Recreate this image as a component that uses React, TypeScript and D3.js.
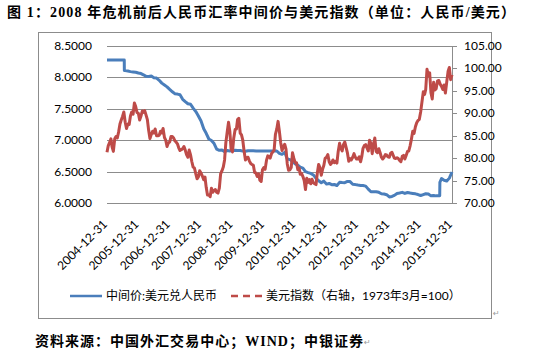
import React from 'react';
import * as d3 from 'd3';

const W = 550;
const H = 356;

const leftTicks = [6.0, 6.5, 7.0, 7.5, 8.0, 8.5];
const rightTicks = [70, 75, 80, 85, 90, 95, 100, 105];
const xTickLabels = [
  '2004-12-31', '2005-12-31', '2006-12-31', '2007-12-31', '2008-12-31', '2009-12-31',
  '2010-12-31', '2011-12-31', '2012-12-31', '2013-12-31', '2014-12-31', '2015-12-31',
];

// USD/CNY central parity, month-end, Jan 2005 .. Dec 2015
const cnyMonthEnd = [
  8.2765, 8.2765, 8.2765, 8.2765, 8.2765, 8.2765, 8.1080, 8.1017, 8.0920, 8.0868, 8.0825, 8.0702,
  8.0608, 8.0415, 8.0170, 8.0156, 8.0215, 7.9956, 7.9897, 7.9538, 7.9087, 7.8792, 7.8495, 7.8087,
  7.7714, 7.7410, 7.7342, 7.7247, 7.6516, 7.6155, 7.5805, 7.5720, 7.5108, 7.4555, 7.3850, 7.3046,
  7.1818, 7.1100, 7.0190, 6.9960, 6.9472, 6.8591, 6.8388, 6.8444, 6.8183, 6.8349, 6.8275, 6.8346,
  6.8382, 6.8379, 6.8359, 6.8263, 6.8235, 6.8319, 6.8317, 6.8311, 6.8290, 6.8271, 6.8274, 6.8282,
  6.8270, 6.8269, 6.8263, 6.8263, 6.8279, 6.7909, 6.7750, 6.8069, 6.7011, 6.6908, 6.6595, 6.6227,
  6.6017, 6.5713, 6.5564, 6.4990, 6.4845, 6.4716, 6.4470, 6.3925, 6.3549, 6.3233, 6.3482, 6.3009,
  6.3115, 6.2919, 6.2943, 6.2787, 6.3288, 6.3249, 6.3241, 6.3428, 6.3410, 6.2990, 6.2929, 6.2855,
  6.2795, 6.2779, 6.2689, 6.2208, 6.1796, 6.1787, 6.1788, 6.1699, 6.1480, 6.1425, 6.1325, 6.0969,
  6.1050, 6.1214, 6.1521, 6.1591, 6.1695, 6.1528, 6.1675, 6.1588, 6.1525, 6.1461, 6.1345, 6.1190,
  6.1339, 6.1475, 6.1422, 6.1137, 6.1196, 6.1136, 6.1172, 6.3893, 6.3613, 6.3495, 6.3962, 6.4936,
];
const cnyExtraDates = ['2004-12-31', '2005-07-20', '2005-07-21', '2015-08-10', '2015-08-11', '2015-08-12'];
const cnyExtraValues = [8.2765, 8.2765, 8.1100, 6.1162, 6.2298, 6.3306];

// US dollar index, mid-month and month-end, Jan 2005 .. Dec 2015
const dxyStartDate = '2004-12-31';
const dxyStartValue = 81.3;
const dxyHalfMonth = [
  // 2005
  82.8, 83.5, 84.3, 82.5, 81.5, 84.3, 84.8, 84.5, 85.8, 87.6, 88.5, 89.3,
  90.3, 88.0, 86.6, 87.6, 87.5, 89.4, 90.3, 89.8, 92.3, 91.5, 90.2, 90.0,
  // 2006
  88.5, 89.4, 90.5, 90.2, 90.6, 89.6, 88.6, 86.2, 84.4, 85.3, 86.0, 85.6,
  86.5, 85.0, 85.0, 85.1, 86.0, 85.6, 86.6, 84.6, 84.0, 82.6, 83.4, 83.6,
  // 2007
  84.8, 84.8, 84.5, 83.9, 83.6, 83.2, 82.3, 81.7, 81.9, 82.1, 82.6, 81.8,
  80.8, 80.2, 81.8, 80.7, 79.2, 78.0, 77.8, 76.5, 75.4, 75.8, 77.2, 76.7,
  // 2008
  76.0, 75.2, 75.8, 73.5, 71.8, 71.8, 71.4, 73.3, 72.4, 72.8, 73.0, 72.4,
  72.2, 73.3, 76.5, 77.2, 78.0, 79.6, 83.5, 85.9, 88.0, 86.0, 82.0, 81.4,
  // 2009
  84.5, 86.4, 86.5, 88.6, 88.9, 85.6, 85.2, 84.0, 81.6, 79.6, 80.1, 80.2,
  79.4, 78.8, 78.6, 78.4, 76.8, 76.7, 75.9, 76.5, 75.1, 74.8, 77.4, 77.9,
  // 2010
  77.5, 79.5, 80.5, 80.4, 80.0, 81.0, 81.4, 81.8, 85.3, 86.5, 88.2, 86.0,
  83.5, 81.7, 82.5, 83.1, 82.0, 78.7, 77.3, 77.4, 77.9, 81.2, 80.0, 79.0,
  // 2011
  79.0, 77.4, 77.8, 76.4, 76.6, 75.9, 75.0, 73.0, 75.5, 74.6, 75.2, 74.3,
  75.3, 74.5, 74.3, 74.1, 76.7, 78.6, 77.9, 76.2, 77.5, 78.4, 80.0, 80.2,
  // 2012
  80.8, 79.2, 78.6, 78.9, 79.6, 79.0, 79.3, 78.9, 81.5, 83.3, 82.2, 81.6,
  83.0, 83.6, 82.4, 81.1, 79.3, 79.9, 79.6, 80.2, 81.0, 80.2, 79.8, 79.8,
  // 2013
  80.3, 79.2, 80.5, 82.2, 82.8, 83.0, 82.3, 81.6, 84.0, 83.3, 81.0, 83.1,
  84.5, 81.5, 81.2, 82.1, 81.2, 80.2, 79.8, 80.2, 80.8, 80.7, 80.3, 80.2,
  // 2014
  81.1, 81.3, 80.6, 80.0, 79.9, 80.1, 79.9, 79.5, 79.2, 80.4, 80.6, 79.8,
  80.6, 81.5, 81.6, 82.8, 84.3, 86.0, 85.5, 87.0, 87.9, 88.4, 88.6, 90.3,
  // 2015
  92.5, 94.8, 94.2, 95.3, 99.8, 98.4, 99.0, 94.6, 93.2, 96.9, 95.2, 95.5,
  97.2, 97.3, 96.5, 96.0, 95.3, 96.3, 94.5, 97.0, 99.3, 100.2, 97.5, 98.6,
];

const parse = d3.timeParse('%Y-%m-%d');

type Pt = { d: Date; v: number };

const cnySeries: Pt[] = [
  ...cnyMonthEnd.map((v, i) => ({ d: new Date(2005, i + 1, 0), v })),
  ...cnyExtraDates.map((s, i) => ({ d: parse(s) as Date, v: cnyExtraValues[i] })),
].sort((a, b) => +a.d - +b.d);

const dxySeries: Pt[] = [
  { d: parse(dxyStartDate) as Date, v: dxyStartValue },
  ...dxyHalfMonth.map((v, i) => {
    const m = Math.floor(i / 2);
    const d = i % 2 === 0 ? new Date(2005, m, 15) : new Date(2005, m + 1, 0);
    return { d, v };
  }),
];

const BLUE = '#4a7ebb';
const RED = '#be4b48';
const GRID = '#8c8c8c';

export default function App() {
  const plotL = 107;
  const plotR = 452;
  const plotT = 46;
  const plotB = 203;

  const x = d3
    .scaleTime()
    .domain([parse('2004-12-31') as Date, parse('2015-12-31') as Date])
    .range([plotL, plotR]);
  const yL = d3.scaleLinear().domain([6.0, 8.5]).range([plotB, plotT]);
  const yR = d3.scaleLinear().domain([70, 105]).range([plotB, plotT]);

  const blueLine = d3
    .line<Pt>()
    .x((p) => x(p.d))
    .y((p) => yL(p.v))
    .curve(d3.curveLinear);
  const redLine = d3
    .line<Pt>()
    .x((p) => x(p.d))
    .y((p) => yR(p.v))
    .curve(d3.curveLinear);

  const numFont = 'Lato, "Open Sans", sans-serif';
  const cjkFont = '"Liberation Serif", "Noto Sans CJK SC", serif';

  return (
    <svg width={W} height={H} style={{ position: 'absolute', left: 0, top: 0 }}>
      <rect x={0} y={0} width={W} height={H} fill="#fff" />
      {/* Title */}
      <text
        x={7}
        y={17}
        fontFamily={cjkFont}
        fontWeight={700}
        fontSize={14}
        textLength={508}
        lengthAdjust="spacing"
        fill="#000"
      >
        图 1：2008 年危机前后人民币汇率中间价与美元指数（单位：人民币/美元）
      </text>

      {/* Chart frame */}
      <rect x={38.5} y={32.5} width={453} height={286} fill="#fff" stroke="#8c8c8c" strokeWidth={1} />

      {/* Gridlines */}
      {leftTicks.map((t) => (
        <line key={'g' + t} x1={plotL} x2={plotR} y1={Math.round(yL(t)) + 0.5} y2={Math.round(yL(t)) + 0.5} stroke={GRID} strokeWidth={1} />
      ))}

      {/* Left axis labels */}
      {leftTicks.map((t) => (
        <text key={'l' + t} x={92} y={yL(t) + 4} textAnchor="end" fontFamily={numFont} fontSize={12} fill="#000">
          {t.toFixed(4)}
        </text>
      ))}

      {/* Right axis */}
      <line x1={plotR + 0.5} x2={plotR + 0.5} y1={plotT} y2={plotB + 0.5} stroke={GRID} strokeWidth={1} />
      {rightTicks.map((t) => (
        <g key={'r' + t}>
          <line x1={plotR} x2={plotR + 5} y1={Math.round(yR(t)) + 0.5} y2={Math.round(yR(t)) + 0.5} stroke={GRID} strokeWidth={1} />
          <text x={464} y={yR(t) + 4} fontFamily={numFont} fontSize={12} fill="#000">
            {t.toFixed(2)}
          </text>
        </g>
      ))}

      {/* X axis labels */}
      {xTickLabels.map((s) => {
        const px = x(parse(s) as Date) + 1;
        const py = 225;
        return (
          <text
            key={s}
            x={px}
            y={py}
            textAnchor="end"
            transform={`rotate(-45 ${px} ${py})`}
            fontFamily={numFont}
            fontSize={12}
            fill="#000"
          >
            {s}
          </text>
        );
      })}

      {/* Series */}
      <path d={blueLine(cnySeries) || ''} fill="none" stroke={BLUE} strokeWidth={3} strokeLinejoin="round" />
      <path d={redLine(dxySeries) || ''} fill="none" stroke={RED} strokeWidth={3} strokeLinejoin="round" />

      {/* Legend */}
      <line x1={70} x2={102} y1={296} y2={296} stroke={BLUE} strokeWidth={2.5} />
      <text x={106} y={300} fontFamily={'Lato, "Noto Sans CJK SC", sans-serif'} fontSize={12} fill="#000">
        中间价:美元兑人民币
      </text>
      <line x1={231} x2={265} y1={296} y2={296} stroke={RED} strokeWidth={2.5} strokeDasharray="7,5" />
      <text x={266} y={300} fontFamily={'Lato, "Noto Sans CJK SC", sans-serif'} fontSize={12} fill="#000">
        美元指数（右轴，1973年3月=100）
      </text>

      {/* Paragraph marks */}
      <text x={493} y={316} fontFamily="DejaVu Sans" fontSize={8} fill="#9a9a9a">↵</text>

      {/* Source */}
      <text
        x={35}
        y={346}
        fontFamily={cjkFont}
        fontWeight={700}
        fontSize={14}
        textLength={328}
        lengthAdjust="spacing"
        fill="#000"
      >
        资料来源：中国外汇交易中心；WIND；中银证券
      </text>
      <text x={364} y={345} fontFamily="DejaVu Sans" fontSize={8} fill="#9a9a9a">↵</text>
    </svg>
  );
}
